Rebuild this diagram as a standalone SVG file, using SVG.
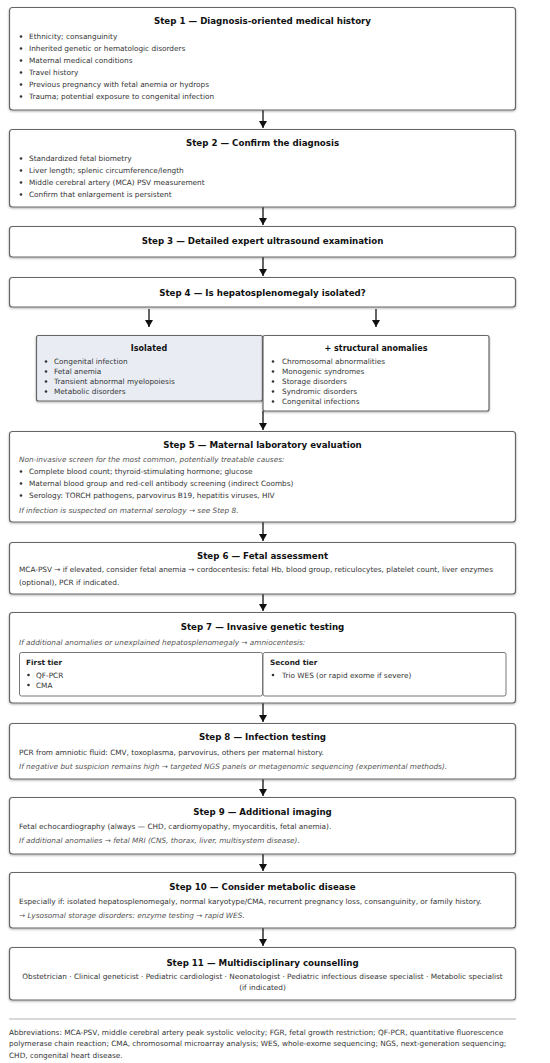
<svg xmlns="http://www.w3.org/2000/svg" width="550" height="1063" viewBox="0 0 550 1063">
<style>
text{font-family:"DejaVu Sans","Liberation Sans",sans-serif}
.box{fill:#fff;stroke:#666;stroke-width:1.2;filter:url(#sh)}
.iso{fill:#e9edf3;stroke:#666;stroke-width:1.2;filter:url(#sh)}
.inner{fill:#fff;stroke:#777;stroke-width:1}
.t{font-size:8.67px;font-weight:bold;fill:#111;text-anchor:middle}
.st{font-size:8px;font-weight:bold;fill:#111;text-anchor:middle}
.tb{font-size:7.33px;font-weight:bold;fill:#222}
.b{font-size:7.33px;fill:#333}
.i{font-size:7.33px;fill:#555;font-style:italic}
.c{text-anchor:middle}
.dot{fill:#333}
.conn{stroke:#111;stroke-width:1.3;fill:none;marker-end:url(#ah)}
</style>
<defs>
<filter id="sh" x="-5%" y="-10%" width="110%" height="130%">
<feDropShadow dx="0" dy="1" stdDeviation="0.8" flood-color="#000" flood-opacity="0.3"/>
</filter>
<marker id="ah" markerUnits="userSpaceOnUse" markerWidth="8" markerHeight="8" refX="7" refY="4" orient="auto">
<path d="M0,0 L7,4 L0,8 z" fill="#111"/>
</marker>
</defs>
<rect width="550" height="1063" fill="#fff"/>

<g id="connectors">
<line class="conn" x1="263" y1="110" x2="263" y2="128"/>
<line class="conn" x1="263" y1="207" x2="263" y2="225"/>
<line class="conn" x1="263" y1="257" x2="263" y2="276"/>
<line class="conn" x1="149" y1="309" x2="149" y2="327"/>
<line class="conn" x1="376" y1="309" x2="376" y2="327"/>
<line class="conn" x1="263" y1="411" x2="263" y2="430"/>
<line class="conn" x1="263" y1="522" x2="263" y2="541"/>
<line class="conn" x1="263" y1="594" x2="263" y2="611"/>
<line class="conn" x1="263" y1="703" x2="263" y2="722"/>
<line class="conn" x1="263" y1="779" x2="263" y2="796"/>
<line class="conn" x1="263" y1="854" x2="263" y2="871"/>
<line class="conn" x1="263" y1="928" x2="263" y2="946"/>
</g>

<g id="step1">
<rect class="box" x="9.5" y="7.5" width="506" height="102.5" rx="3"/>
<text class="t" x="262.5" y="24">Step 1 — Diagnosis-oriented medical history</text>
<circle class="dot" cx="21" cy="36.5" r="1.3"/><text class="b" x="29" y="39">Ethnicity; consanguinity</text>
<circle class="dot" cx="21" cy="48.5" r="1.3"/><text class="b" x="29" y="51">Inherited genetic or hematologic disorders</text>
<circle class="dot" cx="21" cy="60.5" r="1.3"/><text class="b" x="29" y="63">Maternal medical conditions</text>
<circle class="dot" cx="21" cy="72.5" r="1.3"/><text class="b" x="29" y="75">Travel history</text>
<circle class="dot" cx="21" cy="84.5" r="1.3"/><text class="b" x="29" y="87">Previous pregnancy with fetal anemia or hydrops</text>
<circle class="dot" cx="21" cy="96.5" r="1.3"/><text class="b" x="29" y="99">Trauma; potential exposure to congenital infection</text>
</g>

<g id="step2">
<rect class="box" x="9.5" y="129.5" width="506" height="77.5" rx="3"/>
<text class="t" x="262.5" y="146">Step 2 — Confirm the diagnosis</text>
<circle class="dot" cx="21" cy="158.5" r="1.3"/><text class="b" x="29" y="161">Standardized fetal biometry</text>
<circle class="dot" cx="21" cy="170.5" r="1.3"/><text class="b" x="29" y="173">Liver length; splenic circumference/length</text>
<circle class="dot" cx="21" cy="182.5" r="1.3"/><text class="b" x="29" y="185">Middle cerebral artery (MCA) PSV measurement</text>
<circle class="dot" cx="21" cy="194.5" r="1.3"/><text class="b" x="29" y="197">Confirm that enlargement is persistent</text>
</g>

<g id="step3">
<rect class="box" x="9.5" y="226.5" width="506" height="30.5" rx="3"/>
<text class="t" x="262.5" y="244">Step 3 — Detailed expert ultrasound examination</text>
</g>

<g id="step4">
<rect class="box" x="9.5" y="277.5" width="506" height="29.5" rx="3"/>
<text class="t" x="262.5" y="295.5">Step 4 — Is hepatosplenomegaly isolated?</text>
</g>

<g id="isolated">
<rect class="iso" x="36.5" y="335.5" width="226" height="65.5" rx="2"/>
<text class="st" x="149" y="351">Isolated</text>
<circle class="dot" cx="46" cy="361.5" r="1.3"/><text class="b" x="54" y="364">Congenital infection</text>
<circle class="dot" cx="46" cy="371.5" r="1.3"/><text class="b" x="54" y="374">Fetal anemia</text>
<circle class="dot" cx="46" cy="381.5" r="1.3"/><text class="b" x="54" y="384">Transient abnormal myelopoiesis</text>
<circle class="dot" cx="46" cy="391.5" r="1.3"/><text class="b" x="54" y="394">Metabolic disorders</text>
</g>

<g id="structural">
<rect class="box" x="263" y="335.5" width="226" height="75.5" rx="2"/>
<text class="st" x="376" y="351">+ structural anomalies</text>
<circle class="dot" cx="273" cy="361.5" r="1.3"/><text class="b" x="282" y="364">Chromosomal abnormalities</text>
<circle class="dot" cx="273" cy="371.5" r="1.3"/><text class="b" x="282" y="374">Monogenic syndromes</text>
<circle class="dot" cx="273" cy="381.5" r="1.3"/><text class="b" x="282" y="384">Storage disorders</text>
<circle class="dot" cx="273" cy="391.5" r="1.3"/><text class="b" x="282" y="394">Syndromic disorders</text>
<circle class="dot" cx="273" cy="401.5" r="1.3"/><text class="b" x="282" y="404">Congenital infections</text>
</g>

<g id="step5">
<rect class="box" x="9.5" y="431.5" width="506" height="90.5" rx="3"/>
<text class="t" x="262.5" y="447.5">Step 5 — Maternal laboratory evaluation</text>
<text class="i" x="19" y="461.5">Non-invasive screen for the most common, potentially treatable causes:</text>
<circle class="dot" cx="21" cy="471.5" r="1.3"/><text class="b" x="29" y="474">Complete blood count; thyroid-stimulating hormone; glucose</text>
<circle class="dot" cx="21" cy="483.5" r="1.3"/><text class="b" x="29" y="486">Maternal blood group and red-cell antibody screening (indirect Coombs)</text>
<circle class="dot" cx="21" cy="495.5" r="1.3"/><text class="b" x="29" y="498">Serology: TORCH pathogens, parvovirus B19, hepatitis viruses, HIV</text>
<text class="i" x="19" y="512.5">If infection is suspected on maternal serology → see Step 8.</text>
</g>

<g id="step6">
<rect class="box" x="9.5" y="542.5" width="506" height="51.5" rx="3"/>
<text class="t" x="262.5" y="558.5">Step 6 — Fetal assessment</text>
<text class="b" x="19" y="571.5">MCA-PSV → if elevated, consider fetal anemia → cordocentesis: fetal Hb, blood group, reticulocytes, platelet count, liver enzymes</text>
<text class="b" x="19" y="584.5">(optional), PCR if indicated.</text>
</g>

<g id="step7">
<rect class="box" x="9.5" y="612.5" width="506" height="90.5" rx="3"/>
<text class="t" x="262.5" y="629.5">Step 7 — Invasive genetic testing</text>
<text class="i" x="19" y="644.5">If additional anomalies or unexplained hepatosplenomegaly → amniocentesis:</text>
<rect class="inner" x="19.5" y="652.5" width="243" height="43.5" rx="2"/>
<rect class="inner" x="263" y="652.5" width="243" height="43.5" rx="2"/>
<text class="tb" x="26" y="664.5">First tier</text>
<circle class="dot" cx="28.5" cy="675" r="1.3"/><text class="b" x="36" y="677.5">QF-PCR</text>
<circle class="dot" cx="28.5" cy="685" r="1.3"/><text class="b" x="36" y="687.5">CMA</text>
<text class="tb" x="270" y="664.5">Second tier</text>
<circle class="dot" cx="273" cy="675" r="1.3"/><text class="b" x="282" y="677.5">Trio WES (or rapid exome if severe)</text>
</g>

<g id="step8">
<rect class="box" x="9.5" y="723.5" width="506" height="55.5" rx="3"/>
<text class="t" x="262.5" y="739.5">Step 8 — Infection testing</text>
<text class="b" x="19" y="754.5">PCR from amniotic fluid: CMV, toxoplasma, parvovirus, others per maternal history.</text>
<text class="i" x="19" y="768.5">If negative but suspicion remains high → targeted NGS panels or metagenomic sequencing (experimental methods).</text>
</g>

<g id="step9">
<rect class="box" x="9.5" y="797.5" width="506" height="56.5" rx="3"/>
<text class="t" x="262.5" y="814.5">Step 9 — Additional imaging</text>
<text class="b" x="19" y="828.5">Fetal echocardiography (always — CHD, cardiomyopathy, myocarditis, fetal anemia).</text>
<text class="i" x="19" y="842.5">If additional anomalies → fetal MRI (CNS, thorax, liver, multisystem disease).</text>
</g>

<g id="step10">
<rect class="box" x="9.5" y="872.5" width="506" height="55.5" rx="3"/>
<text class="t" x="262.5" y="889.5">Step 10 — Consider metabolic disease</text>
<text class="b" x="19" y="903.5">Especially if: isolated hepatosplenomegaly, normal karyotype/CMA, recurrent pregnancy loss, consanguinity, or family history.</text>
<text class="i" x="19" y="917.5">→ Lysosomal storage disorders: enzyme testing → rapid WES.</text>
</g>

<g id="step11">
<rect class="box" x="9.5" y="947.5" width="506" height="52.5" rx="3"/>
<text class="t" x="262.5" y="965.5">Step 11 — Multidisciplinary counselling</text>
<text class="b c" x="262.5" y="978.5">Obstetrician · Clinical geneticist · Pediatric cardiologist · Neonatologist · Pediatric infectious disease specialist · Metabolic specialist</text>
<text class="b c" x="262.5" y="989.5">(if indicated)</text>
</g>

<g id="abbreviations">
<line x1="9" y1="1019" x2="516" y2="1019" stroke="#ccc" stroke-width="1.5"/>
<text class="b" x="9" y="1034.5">Abbreviations: MCA-PSV, middle cerebral artery peak systolic velocity; FGR, fetal growth restriction; QF-PCR, quantitative fluorescence</text>
<text class="b" x="9" y="1046">polymerase chain reaction; CMA, chromosomal microarray analysis; WES, whole-exome sequencing; NGS, next-generation sequencing;</text>
<text class="b" x="9" y="1057.5">CHD, congenital heart disease.</text>
</g>
</svg>
